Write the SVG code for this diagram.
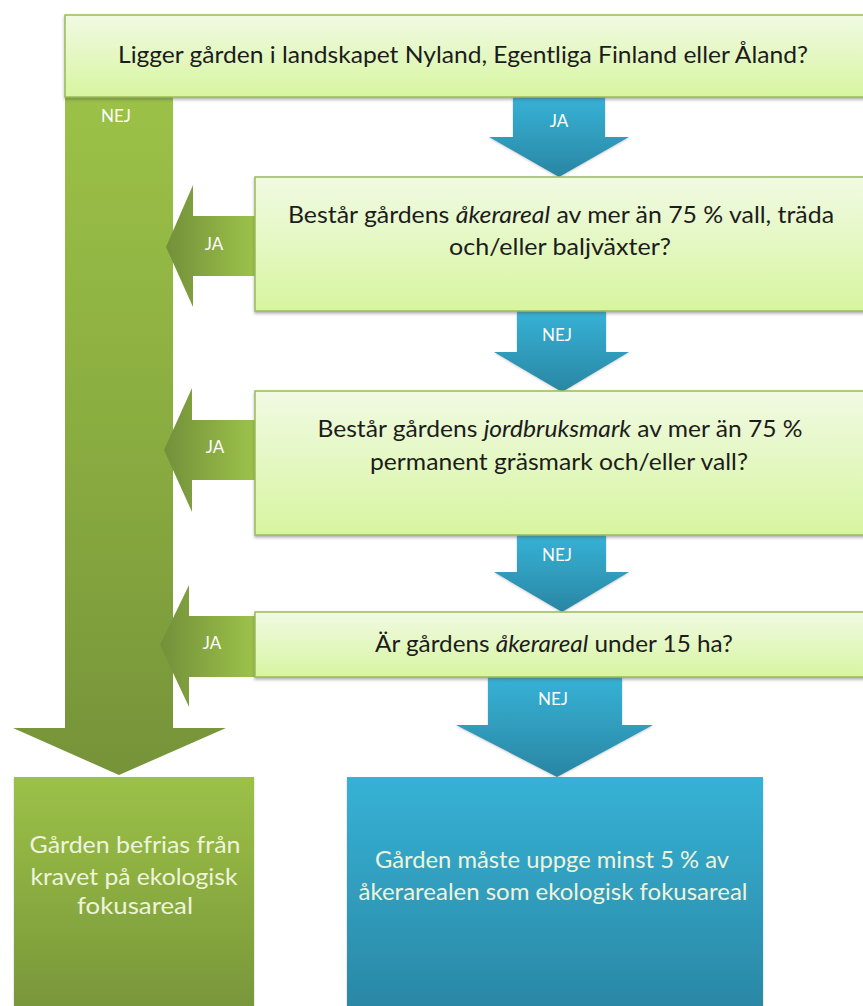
<svg xmlns="http://www.w3.org/2000/svg" width="863" height="1006" viewBox="0 0 863 1006">
<defs>
<linearGradient id="qg" x1="0" y1="0" x2="0" y2="1">
<stop offset="0" stop-color="#f1fae3"/>
<stop offset="1" stop-color="#d7f5a0"/>
</linearGradient>
<linearGradient id="bg" x1="0" y1="0" x2="0" y2="1">
<stop offset="0" stop-color="#36b2d6"/>
<stop offset="1" stop-color="#2a86a3"/>
</linearGradient>
<linearGradient id="gv" x1="0" y1="0" x2="0" y2="1">
<stop offset="0" stop-color="#9cc147"/>
<stop offset="1" stop-color="#77953a"/>
</linearGradient>
<linearGradient id="gbar" gradientUnits="userSpaceOnUse" x1="0" y1="97" x2="0" y2="775">
<stop offset="0" stop-color="#9cc147"/>
<stop offset="0.6" stop-color="#86a83f"/>
<stop offset="1" stop-color="#769339"/>
</linearGradient>
<linearGradient id="gh" x1="0" y1="0" x2="1" y2="0">
<stop offset="0" stop-color="#72903a"/>
<stop offset="1" stop-color="#9dc24a"/>
</linearGradient>
<filter id="sh" x="-5%" y="-10%" width="110%" height="130%">
<feDropShadow dx="0" dy="2" stdDeviation="1.5" flood-color="#555" flood-opacity="0.45"/>
</filter>
<filter id="sh2" x="-10%" y="-10%" width="120%" height="130%">
<feDropShadow dx="0" dy="1" stdDeviation="1" flood-color="#555" flood-opacity="0.3"/>
</filter>
</defs>
<style>
.q{fill:url(#qg);stroke:#9bbb59;stroke-width:1.5;filter:url(#sh)}
.qt{font-family:Lato,"Open Sans",sans-serif;font-size:23.5px;fill:#1c1c1c;text-anchor:middle}
.lbl{font-family:Lato,"Open Sans",sans-serif;font-size:17px;fill:#ffffff;text-anchor:middle}
.rt{font-family:Lato,"Open Sans",sans-serif;font-size:23.5px;fill:#eef4dc;text-anchor:middle}
.barrow{fill:url(#bg);filter:url(#sh2)}
.garrow{fill:url(#gh)}
</style>
<rect width="863" height="1006" fill="#ffffff"/>
<g id="connectors">
<g id="c-q1-r1">
<polygon points="65,97 173,97 173,728 226,728 119,775 13,728 65,728" fill="url(#gbar)"/>
<text class="lbl" x="116" y="122">NEJ</text>
</g>
<g id="c-q2-r1">
<polygon class="garrow" points="255,216 193,216 193,185 166,247 193,307 193,276 255,276"/>
<text class="lbl" x="214" y="250">JA</text>
</g>
<g id="c-q3-r1">
<polygon class="garrow" points="255,420 192,420 192,388 164,450 192,512 192,480 255,480"/>
<text class="lbl" x="215" y="453">JA</text>
</g>
<g id="c-q4-r1">
<polygon class="garrow" points="255,616 189,616 189,585 160,645 189,707 189,677 255,677"/>
<text class="lbl" x="212" y="649">JA</text>
</g>
<g id="c-q1-q2">
<polygon class="barrow" points="513,97 605,97 605,137 629,137 559,177 489,137 513,137"/>
<text class="lbl" x="559" y="127">JA</text>
</g>
<g id="c-q2-q3">
<polygon class="barrow" points="517,311 606,311 606,352 629,352 562,392 494,352 517,352"/>
<text class="lbl" x="557" y="341">NEJ</text>
</g>
<g id="c-q3-q4">
<polygon class="barrow" points="517,535 606,535 606,572 629,572 562,612 494,572 517,572"/>
<text class="lbl" x="557" y="561">NEJ</text>
</g>
<g id="c-q4-r2">
<polygon class="barrow" points="488,677 622,677 622,725 653,725 557,777 456,725 488,725"/>
<text class="lbl" x="553" y="705">NEJ</text>
</g>
</g>
<g id="q1">
<rect class="q" x="65" y="15" width="810" height="82"/>
<text class="qt" x="463" y="63" textLength="690" lengthAdjust="spacingAndGlyphs">Ligger gården i landskapet Nyland, Egentliga Finland eller Åland?</text>
</g>
<g id="q2">
<rect class="q" x="255" y="177" width="620" height="134"/>
<text class="qt" x="561" y="223" textLength="546" lengthAdjust="spacingAndGlyphs">Består gårdens <tspan font-style="italic">åkerareal</tspan> av mer än 75 % vall, träda</text>
<text class="qt" x="560" y="255" textLength="222" lengthAdjust="spacingAndGlyphs">och/eller baljväxter?</text>
</g>
<g id="q3">
<rect class="q" x="255" y="391" width="620" height="144"/>
<text class="qt" x="560" y="437" textLength="485" lengthAdjust="spacingAndGlyphs">Består gårdens <tspan font-style="italic">jordbruksmark</tspan> av mer än 75 %</text>
<text class="qt" x="559" y="470" textLength="378" lengthAdjust="spacingAndGlyphs">permanent gräsmark och/eller vall?</text>
</g>
<g id="q4">
<rect class="q" x="255" y="612" width="620" height="65"/>
<text class="qt" x="554" y="652" textLength="358" lengthAdjust="spacingAndGlyphs">Är gårdens <tspan font-style="italic">åkerareal</tspan> under 15 ha?</text>
</g>
<g id="r1">
<rect x="14" y="777" width="240" height="240" fill="url(#gv)" filter="url(#sh2)"/>
<text class="rt" x="135" y="853" textLength="211" lengthAdjust="spacingAndGlyphs">Gården befrias från</text>
<text class="rt" x="134" y="885" textLength="207" lengthAdjust="spacingAndGlyphs">kravet på ekologisk</text>
<text class="rt" x="135" y="914" textLength="116" lengthAdjust="spacingAndGlyphs">fokusareal</text>
</g>
<g id="r2">
<rect x="347" y="777" width="416" height="240" fill="url(#bg)" filter="url(#sh2)"/>
<text class="rt" x="552" y="868" textLength="354" lengthAdjust="spacingAndGlyphs">Gården måste uppge minst 5 % av</text>
<text class="rt" x="553" y="900" textLength="389" lengthAdjust="spacingAndGlyphs">åkerarealen som ekologisk fokusareal</text>
</g>
</svg>
